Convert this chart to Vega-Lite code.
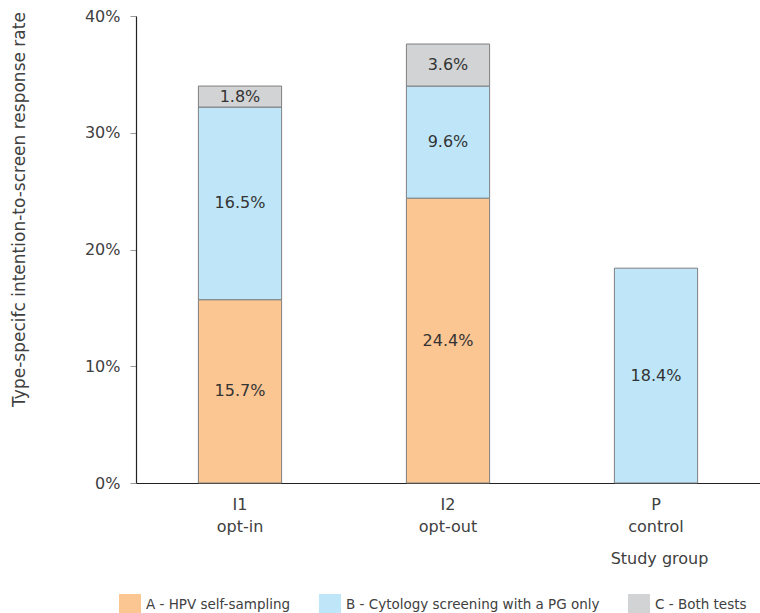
{
  "$schema": "https://vega.github.io/schema/vega-lite/v6.json",
  "width": 624,
  "height": 467,
  "autosize": "none",
  "padding": {"left": 136, "top": 16, "right": 0, "bottom": 130},
  "background": "white",
  "config": {
    "font": "DejaVu Sans",
    "view": {"stroke": null},
    "axis": {"labelColor": "#404040", "titleColor": "#404040", "labelFont": "DejaVu Sans", "titleFont": "DejaVu Sans", "titleFontWeight": "normal"}
  },
  "data": {
    "values": [
      {"group": "I1|opt-in", "type": "A - HPV self-sampling", "value": 0.157},
      {"group": "I1|opt-in", "type": "B - Cytology screening with a PG only", "value": 0.165},
      {"group": "I1|opt-in", "type": "C - Both tests", "value": 0.018},
      {"group": "I2|opt-out", "type": "A - HPV self-sampling", "value": 0.244},
      {"group": "I2|opt-out", "type": "B - Cytology screening with a PG only", "value": 0.096},
      {"group": "I2|opt-out", "type": "C - Both tests", "value": 0.036},
      {"group": "P|control", "type": "B - Cytology screening with a PG only", "value": 0.184}
    ]
  },
  "transform": [
    {"stack": "value", "groupby": ["group"], "sort": [{"field": "type", "order": "ascending"}], "as": ["v0", "v1"]},
    {"calculate": "(datum.v0 + datum.v1) / 2", "as": "mid"}
  ],
  "encoding": {
    "x": {
      "field": "group", "type": "nominal", "sort": ["I1|opt-in", "I2|opt-out", "P|control"],
      "scale": {"paddingInner": 0.6, "paddingOuter": 0.3},
      "axis": {
        "title": "Study group", "labelAngle": 0, "labelExpr": "split(datum.label, '|')",
        "labelFontSize": 16, "labelLineHeight": 22, "labelPadding": 13, "ticks": false,
        "domainColor": "#222222", "domainWidth": 1.2,
        "titleFontSize": 16, "titleX": 523, "titleY": 80, "titleAnchor": null, "titleAlign": "center", "titleBaseline": "alphabetic"
      }
    }
  },
  "layer": [
    {
      "mark": {"type": "bar", "stroke": "#7f7f7f", "strokeWidth": 1},
      "encoding": {
        "y": {
          "field": "v0", "type": "quantitative",
          "scale": {"domain": [0, 0.4], "nice": false},
          "axis": {
            "title": "Type-specifc intention-to-screen response rate", "format": "%", "values": [0, 0.1, 0.2, 0.3, 0.4],
            "grid": false, "labelFontSize": 16, "labelPadding": 10, "tickSize": 6, "tickColor": "#999999",
            "domainColor": "#222222", "domainWidth": 1.2,
            "titleFontSize": 17, "titleX": -108, "titleY": 193, "titleAnchor": null, "titleAlign": "center"
          }
        },
        "y2": {"field": "v1"},
        "color": {
          "field": "type", "type": "nominal",
          "scale": {"domain": ["A - HPV self-sampling", "B - Cytology screening with a PG only", "C - Both tests"], "range": ["#FCC693", "#BEE6F8", "#D2D3D5"]},
          "legend": {
            "title": null, "orient": "none", "direction": "horizontal", "legendX": -17, "legendY": 578,
            "symbolType": "square", "symbolSize": 484, "symbolStrokeWidth": 0, "symbolOpacity": 1,
            "labelFontSize": 13.5, "labelColor": "#404040", "labelOffset": 5, "columnPadding": 28, "labelLimit": 400
          }
        }
      }
    },
    {
      "mark": {"type": "text", "fontSize": 16, "color": "#333333", "baseline": "middle"},
      "encoding": {
        "y": {"field": "mid", "type": "quantitative"},
        "text": {"field": "value", "type": "quantitative", "format": ".1%"}
      }
    }
  ]
}
